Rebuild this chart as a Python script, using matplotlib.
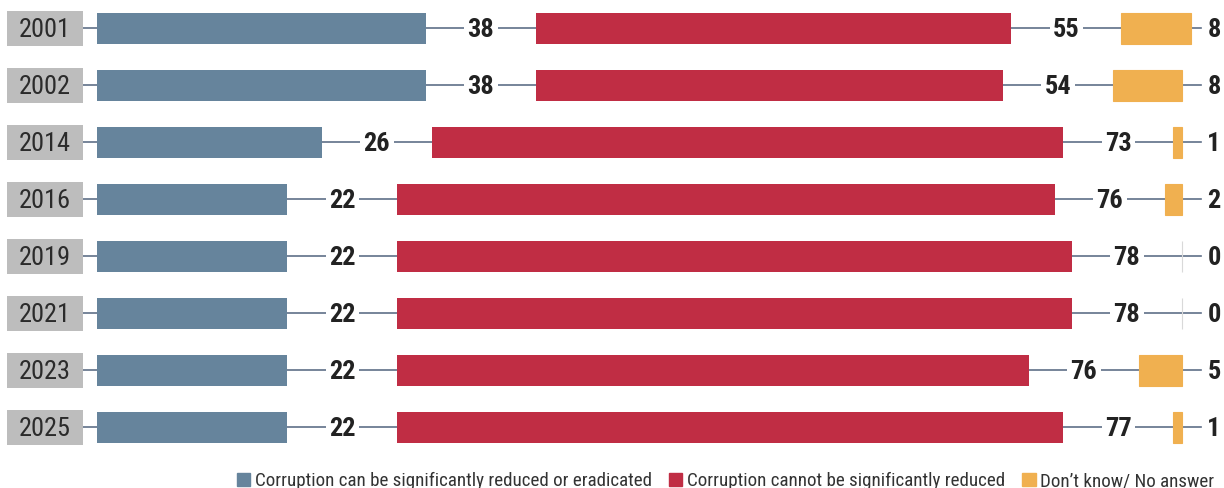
import matplotlib
matplotlib.use("Agg")
import matplotlib.pyplot as plt
from matplotlib.patches import Rectangle

plt.rcParams["font.family"] = ["Roboto Condensed", "DejaVu Sans"]

years = ["2001", "2002", "2014", "2016", "2019", "2021", "2023", "2025"]
can_reduce = [38, 38, 26, 22, 22, 22, 22, 22]
cannot_reduce = [55, 54, 73, 76, 78, 78, 73, 77]          # bar lengths as drawn
cannot_reduce_labels = [55, 54, 73, 76, 78, 78, 76, 77]   # printed values
dont_know = [8, 8, 1, 2, 0, 0, 5, 1]

legend_labels = ["Corruption can be significantly reduced or eradicated",
                 "Corruption cannot be significantly reduced",
                 "Don\u2019t know/ No answer"]

BLUE = "#66849c"
RED = "#c02d44"
ORANGE = "#f0b050"
BOX = "#bdbdbd"
LINE = "#5f6f88"

px = 8.65          # pixels per percentage point
gap = 110 / px     # gap between segments, in data units

fig = plt.figure(figsize=(12.24, 4.88), dpi=100)
ax = fig.add_axes([0, 0, 1, 1])
ax.set_xlim(-97 / px, (1224 - 97) / px)
ax.set_ylim((488 - 28.5) / 57, -28.5 / 57)
ax.axis("off")

y = list(range(len(years)))
red_left = [b + gap for b in can_reduce]
orange_left = [b + r + 2 * gap for b, r in zip(can_reduce, cannot_reduce)]
line_end = 100 + 2 * gap + 19 / px
third_x = 100 + 2 * gap + 32 / px

for i, yr in enumerate(years):
    ax.plot([-14 / px, line_end], [i, i], color=LINE, lw=1.2, zorder=1)
    ax.add_patch(Rectangle((-90 / px, i - 0.31), 76 / px, 0.62,
                           facecolor=BOX, edgecolor="none", zorder=2))
    ax.text(-52 / px, i + 0.02, yr, ha="center", va="center",
            fontsize=19, color="#2b2b2b", zorder=3)

bh = 31 / 57
ax.barh(y, can_reduce, height=bh, color=BLUE, zorder=2)
ax.barh(y, cannot_reduce, left=red_left, height=bh, color=RED, zorder=2)
ax.barh(y, dont_know, left=orange_left, height=bh, color=ORANGE,
        edgecolor=["#d9d9d9" if v == 0 else ORANGE for v in dont_know],
        linewidth=0.8, zorder=2)

lbl = dict(ha="center", va="center", fontsize=19, fontweight="bold",
           color="#222222", zorder=4,
           bbox=dict(facecolor="white", edgecolor="none", pad=2.5))
for i in y:
    ax.text(can_reduce[i] + gap / 2, i + 0.02, str(can_reduce[i]), **lbl)
    ax.text(red_left[i] + cannot_reduce[i] + gap / 2, i + 0.02,
            str(cannot_reduce_labels[i]), **lbl)
    ax.text(third_x, i + 0.02, str(dont_know[i]), **lbl)

handles = [Rectangle((0, 0), 1, 1, color=c) for c in (BLUE, RED, ORANGE)]
fig.legend(handles, legend_labels, loc="center right",
           bbox_to_anchor=(1.0, 0.014), ncol=3, frameon=False,
           fontsize=13.7, handlelength=0.7, handleheight=0.7,
           handletextpad=0.25, columnspacing=0.9, borderaxespad=0.1,
           labelcolor="#333333")

fig.savefig("out.png", dpi=100)
